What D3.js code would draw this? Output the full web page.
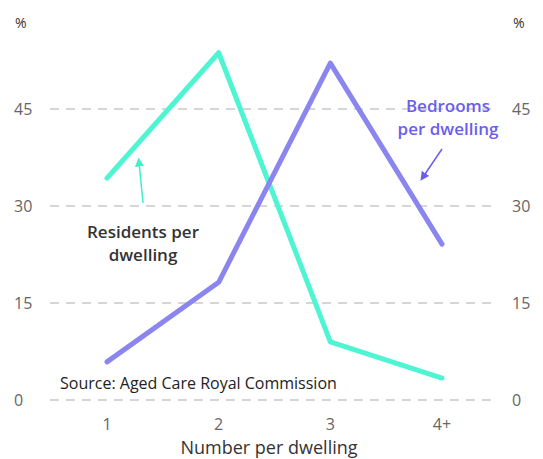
<!DOCTYPE html>
<html>
<head>
<meta charset="utf-8">
<script src="https://cdn.jsdelivr.net/npm/d3@7"></script>
<style>
  body { margin: 0; background: #fff; }
  text { font-family: "Open Sans", Lato, sans-serif; }
</style>
</head>
<body>
<div id="chart"></div>
<script>
// Data
var categories = ['1', '2', '3', '4+'];
var residents  = [34.3, 53.7, 9.0, 3.4];
var bedrooms   = [5.9, 18.2, 52.1, 24.1];
var yTicks     = [0, 15, 30, 45];

var width  = 543;
var height = 459;

var svg = d3.select('#chart').append('svg')
            .attr('width', width)
            .attr('height', height);

var x = d3.scalePoint()
          .domain(categories)
          .range([107, 442]);

var y = d3.scaleLinear()
          .domain([0, 45])
          .range([400, 109]);

// gridlines
svg.selectAll('.grid')
   .data(yTicks)
   .enter()
   .append('line')
   .attr('x1', 50).attr('x2', 497)
   .attr('y1', function (d) { return y(d); })
   .attr('y2', function (d) { return y(d); })
   .attr('stroke', '#d6d6d6')
   .attr('stroke-width', 2)
   .attr('stroke-dasharray', '9,7');

// y tick labels, both sides
[14, 512].forEach(function (xp) {
    svg.selectAll(null)
       .data(yTicks)
       .enter()
       .append('text')
       .attr('x', xp)
       .attr('y', function (d) { return y(d) + 6; })
       .attr('font-size', 16)
       .attr('fill', '#666')
       .text(function (d) { return d; });
    svg.append('text')
       .attr('x', xp + 1).attr('y', 28)
       .attr('font-size', 14)
       .attr('fill', '#333')
       .text('%');
});

// x tick labels
svg.selectAll('.xt')
   .data(categories)
   .enter()
   .append('text')
   .attr('x', function (d) { return x(d); })
   .attr('y', 430)
   .attr('text-anchor', 'middle')
   .attr('font-size', 16)
   .attr('fill', '#666')
   .text(function (d) { return d; });

svg.append('text')
   .attr('x', 269).attr('y', 454)
   .attr('text-anchor', 'middle')
   .attr('font-size', 18)
   .attr('fill', '#333')
   .text('Number per dwelling');

svg.append('text')
   .attr('x', 60).attr('y', 389)
   .attr('font-size', 16)
   .attr('fill', '#222')
   .text('Source: Aged Care Royal Commission');

var line = d3.line()
             .x(function (d, i) { return x(categories[i]); })
             .y(function (d) { return y(d); });

svg.append('path')
   .datum(residents)
   .attr('d', line)
   .attr('fill', 'none')
   .attr('stroke', '#4ef5d3')
   .attr('stroke-width', 5)
   .attr('stroke-linecap', 'round')
   .attr('stroke-linejoin', 'round');

svg.append('path')
   .datum(bedrooms)
   .attr('d', line)
   .attr('fill', 'none')
   .attr('stroke', '#8b85ef')
   .attr('stroke-width', 5)
   .attr('stroke-linecap', 'round')
   .attr('stroke-linejoin', 'round');

// arrows
var defs = svg.append('defs');
function marker(id, col) {
    defs.append('marker')
        .attr('id', id)
        .attr('viewBox', '0 0 10 10')
        .attr('refX', 5).attr('refY', 5)
        .attr('markerWidth', 6).attr('markerHeight', 6)
        .attr('orient', 'auto')
        .append('path')
        .attr('d', 'M0,0L10,5L0,10z')
        .attr('fill', col);
}
marker('arrT', '#3ef0cc');
marker('arrP', '#6a5ef0');

svg.append('line')
   .attr('x1', 143).attr('y1', 203)
   .attr('x2', 139).attr('y2', 162)
   .attr('stroke', '#3ef0cc').attr('stroke-width', 1.5)
   .attr('marker-end', 'url(#arrT)');

svg.append('line')
   .attr('x1', 442).attr('y1', 149)
   .attr('x2', 423).attr('y2', 177)
   .attr('stroke', '#6a5ef0').attr('stroke-width', 1.5)
   .attr('marker-end', 'url(#arrP)');

// annotations
svg.append('text')
   .attr('x', 143).attr('y', 238)
   .attr('text-anchor', 'middle')
   .attr('font-size', 17).attr('font-weight', 600)
   .attr('fill', '#333')
   .selectAll('tspan')
   .data(['Residents per', 'dwelling'])
   .enter()
   .append('tspan')
   .attr('x', 143)
   .attr('dy', function (d, i) { return i ? 23 : 0; })
   .text(function (d) { return d; });

svg.append('text')
   .attr('x', 448).attr('y', 112)
   .attr('text-anchor', 'middle')
   .attr('font-size', 17).attr('font-weight', 600)
   .attr('fill', '#6a5ef0')
   .selectAll('tspan')
   .data(['Bedrooms', 'per dwelling'])
   .enter()
   .append('tspan')
   .attr('x', 448)
   .attr('dy', function (d, i) { return i ? 23 : 0; })
   .text(function (d) { return d; });
</script>
</body>
</html>
